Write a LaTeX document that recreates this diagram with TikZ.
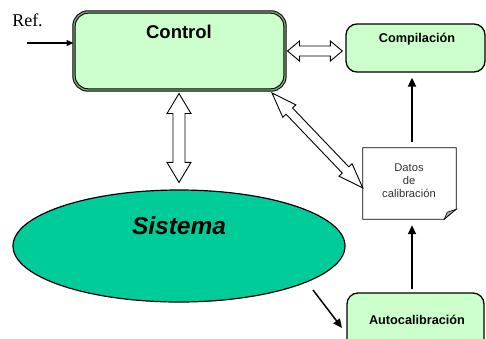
\documentclass[tikz,border=0pt]{standalone}
\usepackage{fontspec}
\setmainfont{Liberation Serif}
\newfontfamily\arial{Liberation Sans}
\usetikzlibrary{shapes.geometric,calc,arrows.meta}
\definecolor{lgreen}{HTML}{CCFFCC}
\definecolor{sgreen}{HTML}{00CC99}
\definecolor{bordergreen}{HTML}{7FA07F}
\newcommand\hollowarrow[5]{%
  \draw[hollowarr] (#1)
    -- ($(#1)!#5!(#2)!#4!90:(#2)$)
    -- ($(#1)!#5!(#2)!#3!90:(#2)$)
    -- ($(#2)!#5!(#1)!#3!-90:(#1)$)
    -- ($(#2)!#5!(#1)!#4!-90:(#1)$)
    -- (#2)
    -- ($(#2)!#5!(#1)!#4!90:(#1)$)
    -- ($(#2)!#5!(#1)!#3!90:(#1)$)
    -- ($(#1)!#5!(#2)!#3!-90:(#2)$)
    -- ($(#1)!#5!(#2)!#4!-90:(#2)$)
    -- cycle;}
\begin{document}
\begin{tikzpicture}[x=1pt,y=-1pt,
  ctrl/.style={draw=black, line width=1pt, double=bordergreen, double distance=1.4pt,
    fill=lgreen, rounded corners=14pt, minimum width=211pt, minimum height=78pt, inner sep=0pt},
  pbox/.style={draw=black, line width=1.3pt, fill=lgreen, rounded corners=11pt, inner sep=0pt},
  boxtitle/.style={font=\arial\bfseries\fontsize{12.7}{14}\selectfont, inner sep=0pt},
  hollowarr/.style={draw=black, line width=0.9pt, fill=white, line join=miter},
  blk/.style={draw=black, line width=1.8pt, -{Triangle[length=9pt,width=8pt]}},
  thin/.style={draw=black, line width=1.2pt, -{Triangle[length=7pt,width=6pt]}}]
\useasboundingbox (0,0) rectangle (486,338);
\clip (0,0) rectangle (486,338);
% Control
\node[ctrl] (control) at (179.5,51) {};
\node[font=\arial\bfseries\fontsize{18.5}{20}\selectfont, inner sep=0pt] (controlt) at (179,32) {Control};
% Ref
\node[font=\fontsize{18}{20}\selectfont, inner sep=0pt] (ref) at (27.5,20) {Ref.};
\coordinate (refin) at (27,43);
\draw[thin] (refin) -- ($(control.west)+(0,-8)$);
% Compilacion
\node[pbox, minimum width=139pt, minimum height=48pt] (comp) at (415.5,48) {};
\node[boxtitle] (compt) at (417,39) {Compilación};
% Autocalibracion
\node[pbox, minimum width=137pt, minimum height=60pt] (auto) at (415.5,323) {};
\node[boxtitle] (autot) at (417,320) {Autocalibración};
% Sistema
\node[ellipse, draw=black, line width=1.2pt, fill=sgreen, minimum width=332pt, minimum height=112pt, inner sep=0pt] (sis) at (179,246) {};
\node[font=\arial\bfseries\itshape\fontsize{24.5}{26}\selectfont, inner sep=0pt] (sist) at (179,226) {Sistema};
% Datos
\node[minimum width=93pt, minimum height=71pt, inner sep=0pt] (datos) at (409.5,183.5) {};
\draw[black, line width=0.8pt, fill=white] (datos.north west) -- (datos.north east)
  -- ($(datos.south east)+(0,-10)$) -- ($(datos.south east)+(-12,0)$) -- (datos.south west) -- cycle;
\draw[black, line width=0.6pt, fill=black!35] ($(datos.south east)+(0,-10)$) -- ($(datos.south east)+(-12,0)$) -- ($(datos.south east)+(-9,-7)$) -- cycle;
\node[font=\arial\fontsize{11.2}{13}\selectfont, text=black!80, align=center, inner sep=0pt] (datost) at (409,181) {Datos\\de\\calibración};
% black arrows
\draw[blk] ($(datos.north)+(2.5,-6)$) -- ($(comp.south)+(-3.5,5)$);
\draw[blk] ($(auto.north)+(-3.5,-3)$) -- ($(datos.south)+(2.5,6)$);
\coordinate (s1) at (313,290);
\coordinate (s2) at (342,328);
\draw[blk, line width=1.5pt] (s1) -- (s2);
% hollow double arrows
\coordinate (v1) at ($(control.south)+(-0.5,3)$);
\coordinate (v2) at ($(sis.north)+(0,-7)$);
\hollowarrow{v1}{v2}{6pt}{12pt}{20pt}
\coordinate (h1) at ($(control.east)+(2,0)$);
\coordinate (h2) at ($(comp.west)+(-3,3)$);
\hollowarrow{h1}{h2}{5pt}{10pt}{12pt}
\coordinate (d1) at (272,93);
\coordinate (d2) at ($(datos.west)+(0,4.5)$);
\hollowarrow{d1}{d2}{4.5pt}{9pt}{25pt}
\end{tikzpicture}
\end{document}
